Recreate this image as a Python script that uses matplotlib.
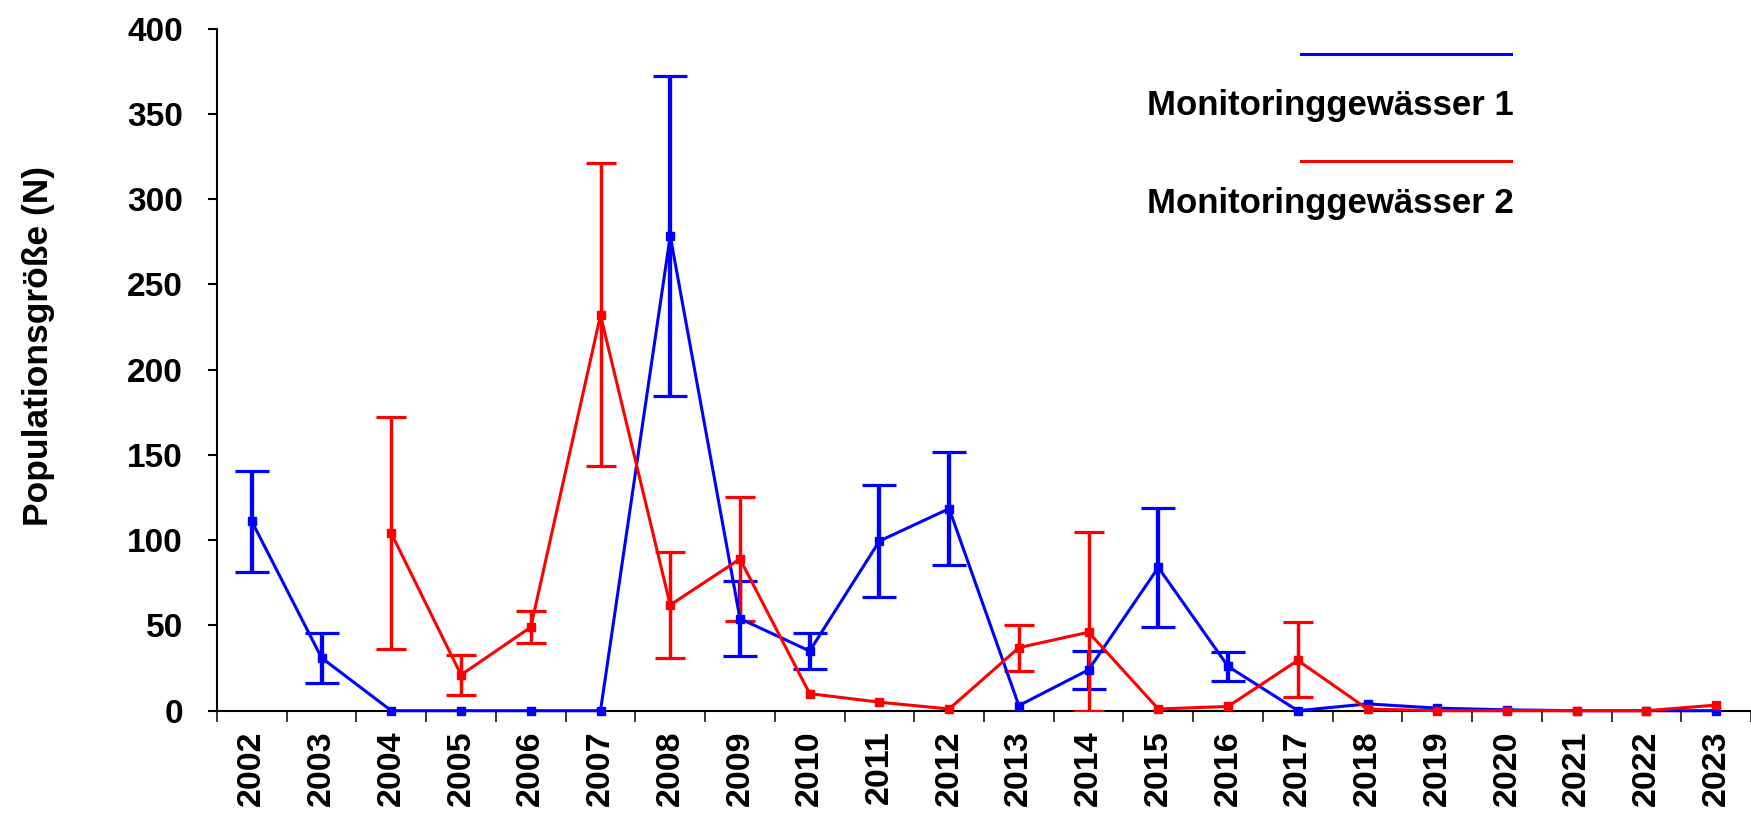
"""
Populationsgröße zweier Monitoringgewässer 2002-2023 mit Fehlerbalken.
"""
import matplotlib

matplotlib.use("Agg")
import matplotlib.pyplot as plt
import numpy as np
from matplotlib.lines import Line2D

plt.rcParams["font.family"] = ["Liberation Sans", "DejaVu Sans"]
plt.rcParams["font.weight"] = "bold"

YEARS = [str(y) for y in range(2002, 2024)]

# Monitoringgewässer 1 (blau)
GEW1 = [111, 31, 0, 0, 0, 0, 278.5, 54, 35, 99.5, 118.5, 3, 24, 84, 26, 0, 4, 1.5, 0.5, 0, 0, 0]
GEW1_ERR = [29.5, 14.5, np.nan, np.nan, np.nan, np.nan, 94, 22, 10.5, 33, 33, np.nan,
            11, 35, 8.5, np.nan, np.nan, np.nan, np.nan, np.nan, np.nan, np.nan]

# Monitoringgewässer 2 (rot)
GEW2 = [np.nan, np.nan, 104, 21, 49, 232, 62, 89, 10, 5, 1, 37, 46, 1, 2.5, 29.5, 1, 0, 0, 0, 0, 3.3]
GEW2_ERR_LO = [np.nan, np.nan, 68, 11.5, 9.5, 88.5, 31, 36.5, np.nan, np.nan, np.nan, 13.5,
               46, np.nan, np.nan, 21.5, np.nan, np.nan, np.nan, np.nan, np.nan, np.nan]
GEW2_ERR_HI = [np.nan, np.nan, 68, 11.5, 9.5, 89.5, 31, 36.5, np.nan, np.nan, np.nan, 13.5,
               59, np.nan, np.nan, 22.5, np.nan, np.nan, np.nan, np.nan, np.nan, np.nan]

LABELS = ["Monitoringgewässer 1", "Monitoringgewässer 2"]
BLUE = "#0000ff"
RED = "#ff0000"

x = np.arange(len(YEARS))

fig = plt.figure(figsize=(17.51, 8.16), dpi=100)
ax = fig.add_axes([217 / 1751, 1 - 710.7 / 816, 1534 / 1751, 682 / 816])


def draw_series(values, err_lo, err_hi, color, elw, capsize):
    values = np.asarray(values, dtype=float)
    lo = np.asarray(err_lo, dtype=float)
    hi = np.asarray(err_hi, dtype=float)
    has = ~np.isnan(lo)
    ax.errorbar(x[has], values[has], yerr=[lo[has], hi[has]], fmt="none",
                ecolor=color, elinewidth=elw, capsize=capsize, capthick=2.3, zorder=3)
    ok = ~np.isnan(values)
    ax.plot(x[ok], values[ok], color=color, lw=2.2, marker="s", ms=5.5,
            zorder=4, clip_on=False)


draw_series(GEW1, GEW1_ERR, GEW1_ERR, BLUE, 3.1, 12)
draw_series(GEW2, GEW2_ERR_LO, GEW2_ERR_HI, RED, 2.5, 11)

ax.set_xlim(-0.5, len(YEARS) - 0.5)
ax.set_ylim(0, 400)
ax.set_yticks(np.arange(0, 401, 50))
ax.tick_params(axis="y", direction="out", length=6.5, width=1.5, pad=18, labelsize=24)

ax.set_xticks(x)
ax.set_xticklabels(YEARS, rotation=90, fontsize=24.5, fontweight="bold")
ax.set_xticks(np.arange(-0.5, len(YEARS), 1.0), minor=True)
ax.tick_params(axis="x", which="major", length=0, pad=14)
ax.tick_params(axis="x", which="minor", direction="out", length=8, width=1.1)

for side in ("top", "right"):
    ax.spines[side].set_visible(False)
for side in ("left", "bottom"):
    ax.spines[side].set_linewidth(1.5)

fig.text(39 / 1751, 1 - 346 / 816, "Populationsgröße (N)", rotation=90,
         ha="center", va="center", fontsize=25.5, fontweight="bold")

# Legende: Linie über dem Text
for (y_line, y_text, color, label) in [(54, 105, BLUE, LABELS[0]), (161, 203, RED, LABELS[1])]:
    fig.add_artist(Line2D([1301 / 1751, 1511 / 1751], [1 - y_line / 816] * 2,
                          color=color, lw=2.2, transform=fig.transFigure))
    fig.text(1514 / 1751, 1 - y_text / 816, label, ha="right", va="center",
             fontsize=25, fontweight="bold")

fig.savefig("out.png", dpi=100)
